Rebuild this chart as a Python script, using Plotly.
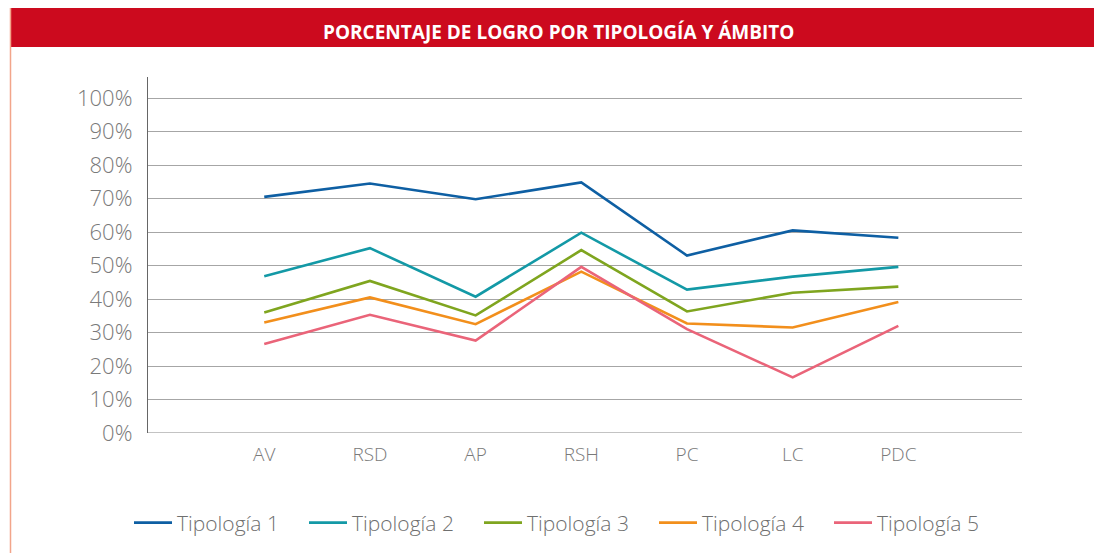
import plotly.graph_objects as go

categories = ["AV", "RSD", "AP", "RSH", "PC", "LC", "PDC"]
tipologia_1 = [70.5, 74.5, 69.8, 74.8, 53.0, 60.5, 58.3]
tipologia_2 = [46.8, 55.2, 40.7, 59.8, 42.8, 46.7, 49.6]
tipologia_3 = [36.0, 45.4, 35.1, 54.6, 36.3, 41.9, 43.7]
tipologia_4 = [33.0, 40.5, 32.5, 48.2, 32.7, 31.5, 39.1]
tipologia_5 = [26.6, 35.3, 27.6, 49.6, 31.0, 16.6, 32.0]
series_names = ["Tipología 1", "Tipología 2", "Tipología 3", "Tipología 4", "Tipología 5"]
series_values = [tipologia_1, tipologia_2, tipologia_3, tipologia_4, tipologia_5]
colors = ["#0E5FA3", "#1399A6", "#7FA51F", "#F28F1C", "#EA6479"]
y_ticks = list(range(0, 101, 10))
y_tick_labels = [f"{v}%" for v in y_ticks]

title_text = "PORCENTAJE DE LOGRO POR TIPOLOGÍA Y ÁMBITO"

xs = list(range(len(categories)))

fig = go.Figure()
for name, vals, col in zip(series_names, series_values, colors):
    fig.add_trace(go.Scatter(
        x=xs, y=vals, mode="lines", name=name,
        line=dict(color=col, width=2.6), cliponaxis=False,
    ))

# the page body has an 8px margin; work in screen pixels, shifted by OFF
OFF = 8
W, H = 1102, 553
L = 148 - OFF
T = 77 - OFF
R = W - (1022 - OFF)
B = H - (433 - OFF)
pw, ph = W - L - R, H - T - B


def px_x(x):
    return (x - OFF - L) / pw


def px_y(y):
    return (H - B - (y - OFF)) / ph


fig.update_layout(
    width=W, height=H,
    margin=dict(l=L, r=R, t=T, b=B, autoexpand=False),
    paper_bgcolor="white", plot_bgcolor="white",
    font=dict(family="Open Sans", color="#7a7a7a"),
    showlegend=True,
    legend=dict(
        orientation="h", x=px_x(129), xanchor="left", y=px_y(523), yanchor="middle",
        font=dict(size=21, color="#6f6f6f", family="Open Sans", weight=300),
        entrywidth=122, entrywidthmode="pixels", itemwidth=38,
        bgcolor="rgba(0,0,0,0)",
    ),
    xaxis=dict(
        range=[-1.1, 7.17], tickvals=xs, ticktext=categories,
        showgrid=False, zeroline=False, showline=False, ticks="",
        tickfont=dict(size=19, color="#7a7a7a", family="Open Sans", weight=300),
        ticklabelstandoff=8, fixedrange=True,
    ),
    yaxis=dict(
        range=[0, 106.3], tickvals=y_ticks, ticktext=y_tick_labels,
        showgrid=True, gridcolor="#a6a6a6", gridwidth=1,
        zeroline=False, showline=True, linecolor="#666666", linewidth=1.3,
        ticks="", tickfont=dict(size=22, color="#7a7a7a", family="Open Sans", weight=300),
        ticklabelstandoff=10, fixedrange=True,
    ),
    shapes=[
        dict(type="rect", xref="paper", yref="paper",
             x0=px_x(10), x1=px_x(1110), y0=px_y(47), y1=px_y(8),
             fillcolor="#CC0A1E", line=dict(width=0), layer="above"),
        dict(type="line", xref="paper", yref="paper",
             x0=px_x(10), x1=px_x(1110), y0=px_y(7), y1=px_y(7),
             line=dict(color="#F2B8A6", width=1)),
        dict(type="line", xref="paper", yref="paper",
             x0=px_x(10.5), x1=px_x(10.5), y0=px_y(7), y1=px_y(560),
             line=dict(color="#F2A58A", width=1.5)),
        dict(type="line", xref="paper", yref="y",
             x0=0, x1=1, y0=0, y1=0,
             line=dict(color="#888888", width=1.2)),
    ],
    annotations=[
        dict(text=title_text, xref="paper", yref="paper",
             x=px_x(558), y=px_y(32), xanchor="center", yanchor="middle",
             showarrow=False,
             font=dict(size=19, color="white", family="Open Sans", weight=700)),
    ],
)

fig.write_html("out.html")
